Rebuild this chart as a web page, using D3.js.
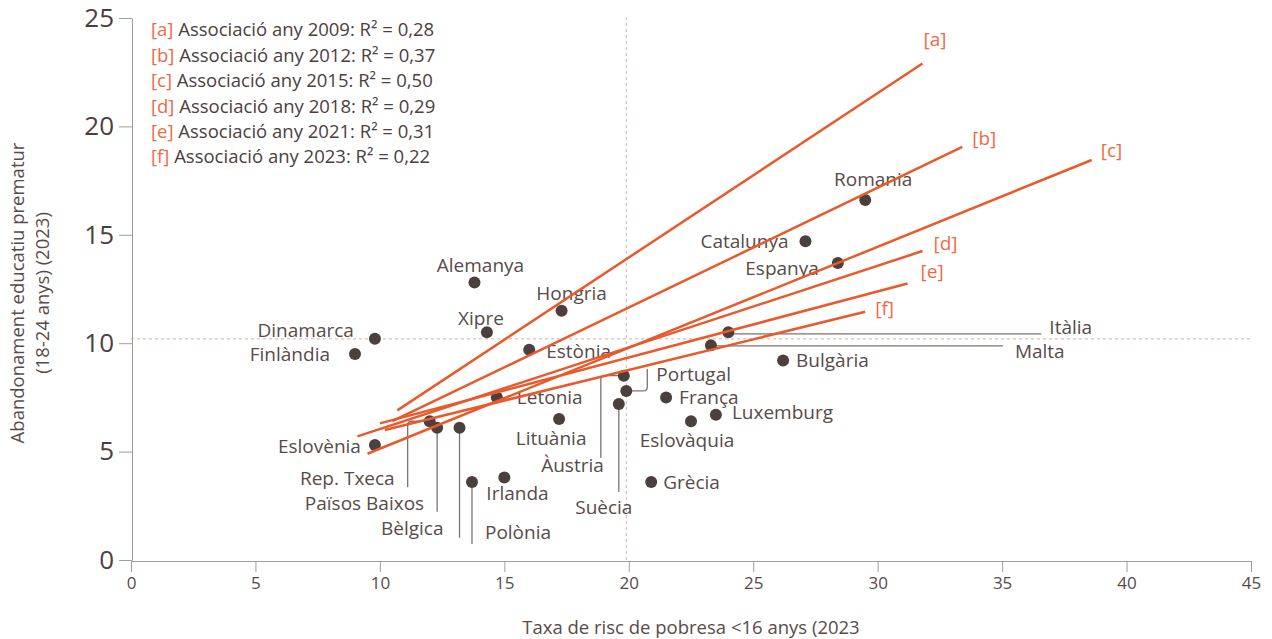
<!DOCTYPE html>
<html>
<head>
<meta charset="utf-8">
<script src="https://cdn.jsdelivr.net/npm/d3@7"></script>
<style>
  html, body { margin: 0; padding: 0; background: #fff; }
  svg { display: block; font-family: 'Open Sans', sans-serif; }
</style>
</head>
<body>
<div id="chart"></div>
<script>
// countries, poverty rate <16 (x) and early school leaving (y), 2023
const countries = ['Romania', 'Catalunya', 'Espanya', 'Alemanya', 'Hongria', 'Xipre', 'Dinamarca',
  'Finlàndia', 'Estònia', 'Itàlia', 'Malta', 'Bulgària', 'Àustria', 'Portugal', 'Suècia', 'França',
  'Luxemburg', 'Eslovàquia', 'Grècia', 'Letonia', 'Lituània', 'Irlanda', 'Polònia', 'Eslovènia',
  'Rep. Txeca', 'Països Baixos', 'Bèlgica'];
const povertyRate = [29.5, 27.1, 28.4, 13.8, 17.3, 14.3, 9.8,
  9.0, 16.0, 24.0, 23.3, 26.2, 19.8, 19.9, 19.6, 21.5,
  23.5, 22.5, 20.9, 14.7, 17.2, 15.0, 13.7, 9.8,
  12.0, 12.3, 13.2];
const dropoutRate = [16.6, 14.7, 13.7, 12.8, 11.5, 10.5, 10.2,
  9.5, 9.7, 10.5, 9.9, 9.2, 8.5, 7.8, 7.2, 7.5,
  6.7, 6.4, 3.6, 7.5, 6.5, 3.8, 3.6, 5.3,
  6.4, 6.1, 6.1];

// regression lines per year
const trendKeys = ['a', 'b', 'c', 'd', 'e', 'f'];
const trendYears = [2009, 2012, 2015, 2018, 2021, 2023];
const trendR2 = ['0,28', '0,37', '0,50', '0,29', '0,31', '0,22'];
const trendX1 = [10.7, 10.5, 9.5, 9.1, 10.0, 10.2];
const trendY1 = [6.9, 6.4, 4.9, 5.7, 6.3, 6.0];
const trendX2 = [31.8, 33.4, 38.6, 31.8, 31.2, 29.5];
const trendY2 = [22.9, 19.05, 18.45, 14.25, 12.75, 11.45];

// averages
const meanPoverty = 19.9;
const meanDropout = 10.2;

const xTicks = [0, 5, 10, 15, 20, 25, 30, 35, 40, 45];
const yTicks = [0, 5, 10, 15, 20, 25];

// label placement (pixel offsets from the dot), leaders as small paths
const labelLayout = {
  'Romania': { anchor: 'middle', dx: 8, dy: -21 },
  'Catalunya': { anchor: 'end', dx: -17, dy: 0 },
  'Espanya': { anchor: 'end', dx: -19, dy: 5 },
  'Alemanya': { anchor: 'middle', dx: 6, dy: -17 },
  'Hongria': { anchor: 'middle', dx: 10, dy: -17 },
  'Xipre': { anchor: 'middle', dx: -6, dy: -14 },
  'Dinamarca': { anchor: 'end', dx: -21, dy: -9 },
  'Finlàndia': { anchor: 'end', dx: -25, dy: 0 },
  'Estònia': { anchor: 'start', dx: 17, dy: 2 },
  'Itàlia': { anchor: 'start', dx: 321, dy: -5, leader: 'M0,1.5H313' },
  'Malta': { anchor: 'start', dx: 304, dy: 6, leader: 'M0,0.5H292' },
  'Bulgària': { anchor: 'start', dx: 13, dy: 0 },
  'Àustria': { anchor: 'end', dx: -20, dy: 90, leader: 'M0,0H-19Q-23,0 -23,4V82' },
  'Portugal': { anchor: 'start', dx: 30, dy: -17, leader: 'M0,0H17Q21,0 21,-4V-22' },
  'Suècia': { anchor: 'middle', dx: -15, dy: 103, leader: 'M0,0V88' },
  'França': { anchor: 'start', dx: 13, dy: 0 },
  'Luxemburg': { anchor: 'start', dx: 16, dy: -2 },
  'Eslovàquia': { anchor: 'middle', dx: -4, dy: 19 },
  'Grècia': { anchor: 'start', dx: 12, dy: 0 },
  'Letonia': { anchor: 'start', dx: 20, dy: 0 },
  'Lituània': { anchor: 'middle', dx: -8, dy: 19 },
  'Irlanda': { anchor: 'start', dx: -18, dy: 16 },
  'Polònia': { anchor: 'start', dx: 13, dy: 50, leader: 'M0,0V62' },
  'Eslovènia': { anchor: 'end', dx: -14, dy: 1 },
  'Rep. Txeca': { anchor: 'end', dx: -35, dy: 57, leader: 'M0,0H-18Q-22,0 -22,4V66' },
  'Països Baixos': { anchor: 'end', dx: -13, dy: 76, leader: 'M0,0V84' },
  'Bèlgica': { anchor: 'end', dx: -16, dy: 101, leader: 'M0,0V110' },
};
const trendLabelOffset = {
  a: [1, -24], b: [10, -9], c: [9, -10], d: [11, -8], e: [13, -12], f: [10, -3],
};

const orange = '#e9592b';
const dark = '#4b403e';
const textColor = '#574b49';
const axisColor = '#a59c9a';

const width = 1272, height = 639;
const svg = d3.select('#chart').append('svg')
  .attr('width', width)
  .attr('height', height);

const x = d3.scaleLinear().domain([0, 45]).range([131, 1251]);
const y = d3.scaleLinear().domain([0, 25]).range([560, 18]);

// reference lines (averages)
svg.append('line')
  .attr('x1', x(0)).attr('x2', x(45))
  .attr('y1', y(meanDropout)).attr('y2', y(meanDropout))
  .attr('stroke', '#cdb3b0').attr('stroke-width', 1).attr('stroke-dasharray', '3,3');
svg.append('line')
  .attr('x1', x(meanPoverty)).attr('x2', x(meanPoverty))
  .attr('y1', y(0)).attr('y2', y(25))
  .attr('stroke', '#cdb3b0').attr('stroke-width', 1).attr('stroke-dasharray', '3,3');

// axes
const xAxis = svg.append('g')
  .attr('transform', `translate(0,${y(0) + 1})`)
  .call(d3.axisBottom(x).tickValues(xTicks).tickSize(11).tickSizeOuter(0).tickPadding(5));
xAxis.select('.domain').attr('stroke', axisColor);
xAxis.selectAll('.tick line').attr('stroke', axisColor);
xAxis.selectAll('.tick text')
  .attr('fill', textColor).style('font-size', '17px').style('font-family', "'Open Sans', sans-serif");

const yAxis = svg.append('g')
  .attr('transform', `translate(${x(0) + 1},0)`)
  .call(d3.axisLeft(y).tickValues(yTicks).tickSize(13).tickSizeOuter(0).tickPadding(5));
yAxis.select('.domain').attr('stroke', axisColor);
yAxis.selectAll('.tick line').attr('stroke', axisColor);
yAxis.selectAll('.tick text')
  .attr('fill', dark).style('font-size', '26px').style('font-family', "'Open Sans', sans-serif");

// axis titles
svg.append('text')
  .attr('x', 691).attr('y', 634)
  .attr('text-anchor', 'middle')
  .attr('fill', textColor).style('font-size', '18.5px')
  .text('Taxa de risc de pobresa <16 anys (2023');

const yTitle = svg.append('text')
  .attr('transform', 'translate(24,293) rotate(-90)')
  .attr('text-anchor', 'middle')
  .attr('fill', textColor).style('font-size', '18.5px');
yTitle.append('tspan').attr('x', 0).attr('dy', 0).text('Abandonament educatiu prematur');
yTitle.append('tspan').attr('x', 0).attr('dy', 25).text('(18-24 anys) (2023)');

// country points
const points = countries.map((name, i) => ({ name, px: povertyRate[i], py: dropoutRate[i] }));

const leaders = svg.append('g');
points.filter(d => labelLayout[d.name].leader).forEach((d) => {
  leaders.append('path')
    .attr('transform', `translate(${x(d.px)},${y(d.py)})`)
    .attr('d', labelLayout[d.name].leader)
    .attr('fill', 'none')
    .attr('stroke', '#7d7270')
    .attr('stroke-width', 1.3);
});

svg.append('g').selectAll('circle')
  .data(points)
  .join('circle')
  .attr('cx', d => x(d.px))
  .attr('cy', d => y(d.py))
  .attr('r', 6)
  .attr('fill', dark);

svg.append('g').selectAll('text')
  .data(points)
  .join('text')
  .attr('x', d => x(d.px) + labelLayout[d.name].dx)
  .attr('y', d => y(d.py) + labelLayout[d.name].dy)
  .attr('dy', '0.35em')
  .attr('text-anchor', d => labelLayout[d.name].anchor)
  .attr('fill', textColor)
  .style('font-size', '19px')
  .text(d => d.name);

// regression lines
const trends = trendKeys.map((key, i) => ({
  key, x1: trendX1[i], y1: trendY1[i], x2: trendX2[i], y2: trendY2[i],
}));

svg.append('g').selectAll('line')
  .data(trends)
  .join('line')
  .attr('x1', d => x(d.x1)).attr('y1', d => y(d.y1))
  .attr('x2', d => x(d.x2)).attr('y2', d => y(d.y2))
  .attr('stroke', orange)
  .attr('stroke-width', 2.5);

svg.append('g').selectAll('text')
  .data(trends)
  .join('text')
  .attr('x', d => x(d.x2) + trendLabelOffset[d.key][0])
  .attr('y', d => y(d.y2) + trendLabelOffset[d.key][1])
  .attr('dy', '0.35em')
  .attr('fill', '#ee6a44')
  .style('font-size', '19px')
  .text(d => `[${d.key}]`);

// legend
const legend = svg.append('g').attr('transform', 'translate(151,30)');
trendKeys.forEach((key, i) => {
  const t = legend.append('text')
    .attr('y', i * 25.4)
    .attr('dy', '0.35em')
    .style('font-size', '18.5px');
  t.append('tspan').attr('fill', '#ee6a44').text(`[${key}]`);
  t.append('tspan').attr('fill', dark).text(` Associació any ${trendYears[i]}: R² = ${trendR2[i]}`);
});
</script>
</body>
</html>
